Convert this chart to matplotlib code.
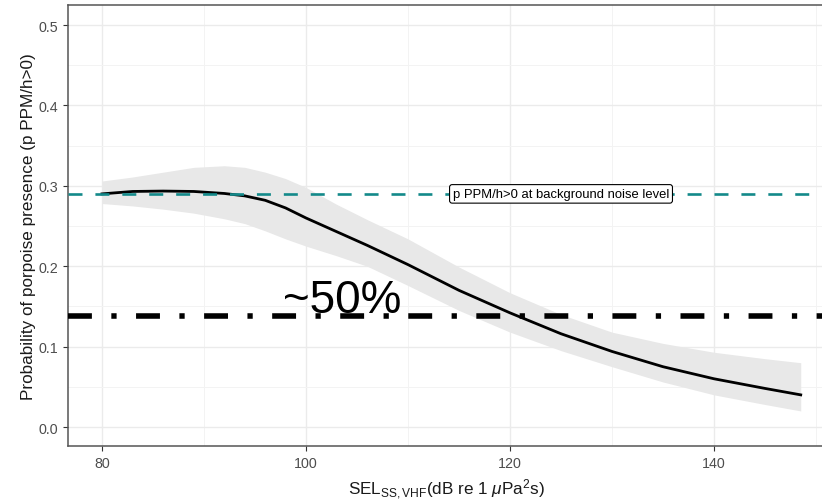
import matplotlib
matplotlib.use("Agg")
import matplotlib.pyplot as plt
from matplotlib.ticker import MultipleLocator

plt.rcParams["font.family"] = ["Liberation Sans", "DejaVu Sans"]
plt.rcParams["mathtext.fontset"] = "custom"
plt.rcParams["mathtext.rm"] = "Liberation Sans"
plt.rcParams["mathtext.it"] = "Liberation Sans:italic"

# Model fit: probability of porpoise presence vs. SEL
sel = [80, 83, 86, 89, 92, 94, 96, 98, 100, 103, 106, 110, 115, 120, 125, 130,
       135, 140, 145, 148.5]
fit = [0.290, 0.293, 0.2935, 0.293, 0.2905, 0.2875, 0.282, 0.2725, 0.260, 0.243,
       0.226, 0.202, 0.170, 0.142, 0.116, 0.094, 0.075, 0.060, 0.048, 0.040]
upper = [0.306, 0.311, 0.317, 0.323, 0.325, 0.323, 0.317, 0.309, 0.298, 0.277,
         0.258, 0.234, 0.199, 0.167, 0.140, 0.118, 0.104, 0.093, 0.085, 0.080]
lower = [0.278, 0.275, 0.271, 0.266, 0.259, 0.253, 0.244, 0.234, 0.225, 0.213,
         0.200, 0.176, 0.145, 0.118, 0.095, 0.075, 0.056, 0.040, 0.028, 0.020]

background_level = 0.29
half_level = 0.138

fig = plt.figure(figsize=(8.22, 5.02), dpi=100)
ax = fig.add_axes([68 / 822, 55 / 502, 756 / 822, 441.3 / 502])

ax.set_xlim(76.67, 150.78)
ax.set_ylim(-0.0236, 0.5253)

ax.xaxis.set_major_locator(MultipleLocator(20))
ax.xaxis.set_minor_locator(MultipleLocator(10))
ax.yaxis.set_major_locator(MultipleLocator(0.1))
ax.yaxis.set_minor_locator(MultipleLocator(0.05))
ax.grid(which="major", color="#EBEBEB", linewidth=1.0)
ax.grid(which="minor", color="#F3F3F3", linewidth=0.7)
ax.set_axisbelow(True)

ax.fill_between(sel, lower, upper, color="#E8E8E8", linewidth=0, zorder=2)
ax.plot(sel, fit, color="black", linewidth=2.0, zorder=3,
        solid_joinstyle="round")

ax.axhline(background_level, color="#13898A", linewidth=1.9,
           dashes=(5.3, 4.9), zorder=4)
ax.axhline(half_level, color="black", linewidth=4.0,
           dashes=(4.3, 3.5, 0.95, 3.5), dash_capstyle="butt", zorder=4)

ax.text(125, background_level, "p PPM/h>0 at background noise level",
        ha="center", va="center", fontsize=9.4, zorder=5,
        bbox=dict(boxstyle="round,pad=0.25,rounding_size=0.2",
                  facecolor="white", edgecolor="black", linewidth=0.8))
ax.text(103.5, 0.143, "~50%", ha="center", va="baseline", fontsize=33, zorder=5)

ax.set_yticks([0.0, 0.1, 0.2, 0.3, 0.4, 0.5])
ax.set_yticklabels(["0.0", "0.1", "0.2", "0.3", "0.4", "0.5"])
ax.tick_params(which="major", colors="#333333", labelcolor="#4D4D4D",
               labelsize=10.3, length=3.5, width=0.8)
ax.tick_params(which="minor", length=0)

for spine in ax.spines.values():
    spine.set_color("#555555")
    spine.set_linewidth(1.1)

ax.set_ylabel("Probability of porpoise presence (p PPM/h>0)", fontsize=12.3,
              color="#1A1A1A", labelpad=2)
ax.set_xlabel(r"SEL$_{\mathrm{SS,VHF}}$(dB re 1 $\mu$Pa$^2$s)", fontsize=12.3,
              color="#1A1A1A", labelpad=5)

fig.savefig("out.png", dpi=100)
